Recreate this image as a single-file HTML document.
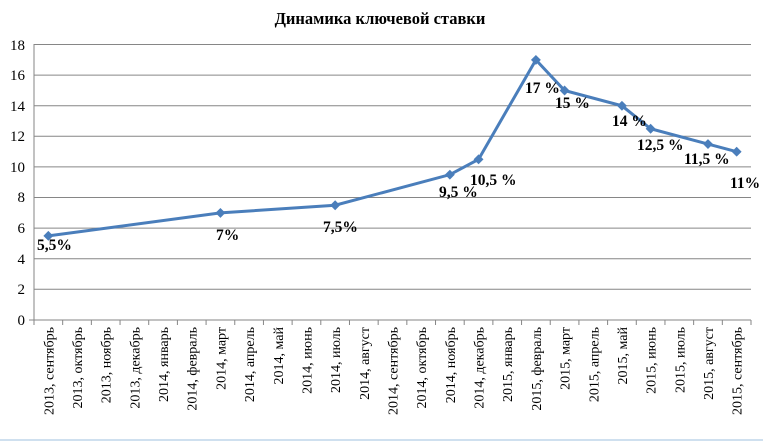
<!DOCTYPE html>
<html><head><meta charset="utf-8"><style>
body{margin:0;background:#fff}
svg{display:block;font-family:"Liberation Serif",serif}
</style></head><body>
<svg width="763" height="442" xmlns="http://www.w3.org/2000/svg">
<rect width="763" height="442" fill="#fff"/>
<text x="380" y="24" text-anchor="middle" font-size="16.5" font-weight="bold">Динамика ключевой ставки</text>
<g stroke="#868686" stroke-width="1">
<line x1="34" y1="44.5" x2="751" y2="44.5"/>
<line x1="34" y1="75.1" x2="751" y2="75.1"/>
<line x1="34" y1="105.7" x2="751" y2="105.7"/>
<line x1="34" y1="136.3" x2="751" y2="136.3"/>
<line x1="34" y1="166.9" x2="751" y2="166.9"/>
<line x1="34" y1="197.5" x2="751" y2="197.5"/>
<line x1="34" y1="228.1" x2="751" y2="228.1"/>
<line x1="34" y1="258.7" x2="751" y2="258.7"/>
<line x1="34" y1="289.3" x2="751" y2="289.3"/>
<line x1="29" y1="320" x2="751" y2="320"/>
<line x1="34" y1="44" x2="34" y2="320"/>
</g>
<g font-size="15" text-anchor="end">
<text x="25" y="50">18</text><text x="25" y="80">16</text><text x="25" y="111">14</text><text x="25" y="141">12</text><text x="25" y="172">10</text><text x="25" y="202">8</text><text x="25" y="233">6</text><text x="25" y="264">4</text><text x="25" y="294">2</text><text x="25" y="325">0</text>
</g>
<g id="ticks" stroke="#868686"></g>
<g id="labels" font-size="14"></g>
<polyline id="ln" fill="none" stroke="#4a7ebb" stroke-width="3"/>
<g id="pts" fill="#4a7ebb"></g>
<g font-size="15.5" font-weight="bold">
<text x="37" y="250">5,5%</text>
<text x="216" y="240">7%</text>
<text x="323" y="232">7,5%</text>
<text x="439" y="197">9,5 %</text>
<text x="470" y="185">10,5 %</text>
<text x="525" y="93">17 %</text>
<text x="555" y="108">15 %</text>
<text x="612" y="126">14 %</text>
<text x="637" y="150">12,5 %</text>
<text x="684" y="164">11,5 %</text>
<text x="730" y="188">11%</text>
</g>
<line x1="0" y1="440" x2="763" y2="440" stroke="#cfe0ef" stroke-width="2"/>
<script>
var cats=["2013, сентябрь","2013, октябрь","2013, ноябрь","2013, декабрь","2014, январь","2014, февраль","2014, март","2014, апрель","2014, май","2014, июнь","2014, июль","2014, август","2014, сентябрь","2014, октябрь","2014, ноябрь","2014, декабрь","2015, январь","2015, февраль","2015, март","2015, апрель","2015, май","2015, июнь","2015, июль","2015, август","2015, сентябрь"];
var ns="http://www.w3.org/2000/svg",w=717/25;
var t=document.getElementById("ticks"),l=document.getElementById("labels"),p=document.getElementById("pts");
for(var i=0;i<=25;i++){var e=document.createElementNS(ns,"line");var x=34+w*i;e.setAttribute("x1",x);e.setAttribute("x2",x);e.setAttribute("y1",320);e.setAttribute("y2",325);t.appendChild(e);}
cats.forEach(function(c,i){var x=34+w*(i+0.5)+5;var e=document.createElementNS(ns,"text");e.setAttribute("transform","translate("+x+",327) rotate(-90)");e.setAttribute("text-anchor","end");e.textContent=c;l.appendChild(e);});
var pts=[];
[[0,5.5],[6,7],[10,7.5],[14,9.5],[15,10.5],[17,17],[18,15],[20,14],[21,12.5],[23,11.5],[24,11]].forEach(function(d){var x=34+w*(d[0]+0.5),y=320-d[1]*15.3;pts.push(x+","+y);var r=document.createElementNS(ns,"rect");r.setAttribute("x",x-3.5);r.setAttribute("y",y-3.5);r.setAttribute("width",7);r.setAttribute("height",7);r.setAttribute("transform","rotate(45 "+x+" "+y+")");p.appendChild(r);});
document.getElementById("ln").setAttribute("points",pts.join(" "));
</script>
</svg>
</body></html>
